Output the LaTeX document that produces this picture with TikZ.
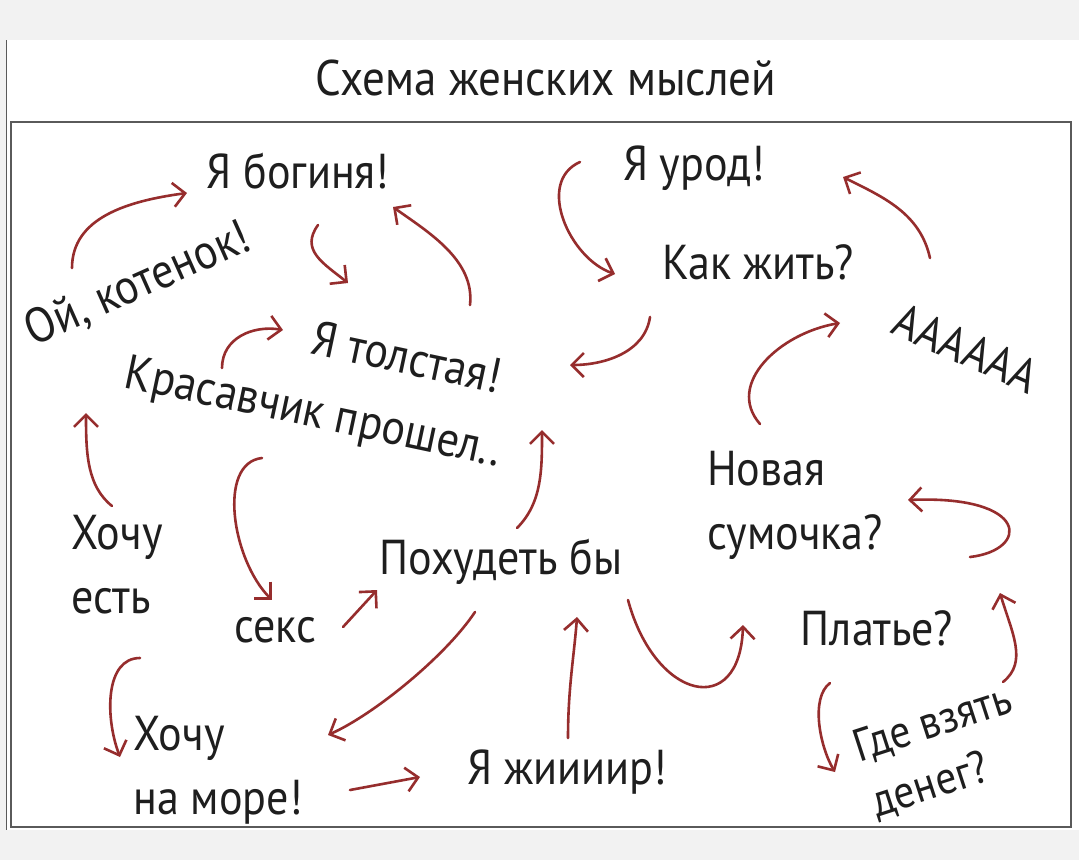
\documentclass[tikz,border=0pt]{standalone}
\usepackage{fontspec}
\setmainfont{PT Sans}[FakeStretch=0.9]
\usetikzlibrary{arrows.meta,calc}
\definecolor{arrred}{RGB}{150,45,45}
\definecolor{ink}{RGB}{30,30,30}
\definecolor{bggray}{RGB}{242,242,242}
\definecolor{framegray}{RGB}{90,90,90}
\begin{document}
\begin{tikzpicture}[x=1pt, y=-1pt,
  word/.style={font=\fontsize{49}{64}\selectfont, text=ink, inner sep=0pt, align=left},
  arr/.style={draw=arrred, line width=2.6pt, line cap=round, -{Straight Barb[length=12pt,width=24pt]}}]
\useasboundingbox (0,0) rectangle (1079,860);
\fill[bggray] (0,0) rectangle (1079,860);
\fill[white] (6,40) rectangle (1079,830);
\draw[framegray, line width=1pt] (6,40) -- (6,830);
\draw[framegray, line width=2.5pt] (11,122) rectangle (1071,827);

\node[word, font=\fontsize{50}{60}\selectfont] (title) at (546,78) {Схема женских мыслей};

% thoughts
\node[word] (bog) at (298,171) {Я богиня!};
\node[word] (urod) at (694,168) {Я урод!};
\node[word] (kak) at (758,262) {Как жить?};
\node[word, rotate=24] (kot) at (138,285) {Ой, котенок!};
\node[word, rotate=-12] (tol) at (407,357) {Я толстая!};
\node[word, rotate=-12] (kras) at (313,415) {Красавчик прошел..};
\node[word, rotate=-24, font=\fontsize{48}{56}\selectfont] (aaa) at (966,348) {АААААА};
\node[word] (sum) at (795,505) {Новая\\сумочка?};
\node[word] (est) at (117,565) {Хочу\\есть};
\node[word] (seks) at (275,630) {секс};
\node[word] (poh) at (501,562) {Похудеть бы};
\node[word] (plat) at (877,628) {Платье?};
\node[word] (more) at (218,770) {Хочу\\на море!};
\node[word] (zhir) at (567,772) {Я жиииир!};
\node[word, rotate=18, font=\fontsize{46}{58}\selectfont] (deng) at (942,752) {Где взять\\денег?};

% arrows
\draw[arr] ($(kot)+(-66,-17)$) .. controls +(0,-50) and +(-60,8) .. ($(bog)+(-111,22)$);
\draw[arr] ($(bog)+(20,54)$) .. controls +(-18,25) and +(-25,-20) .. ($(tol)+(-59,-74)$);
\draw[arr] ($(tol)+(63,-52)$) .. controls +(5,-45) and +(35,25) .. ($(bog)+(95,36)$);
\draw[arr] ($(kras)+(-91,-47)$) .. controls +(0,-30) and +(-30,-5) .. ($(tol)+(-124,-27)$);
\draw[arr] ($(est)+(-5,-59)$) .. controls +(-25,-20) and +(0,40) .. ($(kras)+(-227,-2)$);
\draw[arr] ($(kras)+(-51,43)$) .. controls +(-45,5) and +(-40,-40) .. ($(seks)+(-3,-30)$);
\draw[arr] ($(seks)+(68,-3)$) -- ($(poh)+(-124,28)$);
\draw[arr] ($(poh)+(-26,50)$) .. controls +(-30,45) and +(45,-20) .. ($(more)+(110,-35)$);
\draw[arr] ($(est)+(23,93)$) .. controls +(-35,0) and +(-15,-40) .. ($(more)+(-98,-13)$);
\draw[arr] ($(more)+(132,20)$) -- ($(zhir)+(-147,5)$);
\draw[arr] ($(zhir)+(1,-34)$) .. controls +(0,-50) and +(-3,40) .. ($(poh)+(76,55)$);
\draw[arr] ($(poh)+(127,38)$) .. controls +(27,100) and +(-3,95) .. ($(plat)+(-134,-3)$);
\draw[arr] ($(plat)+(93,-71)$) .. controls +(60,-7) and +(122,-5) .. ($(sum)+(113,-5)$);
\draw[arr] ($(deng)+(61,-70)$) .. controls +(25,-20) and +(12,40) .. ($(plat)+(123,-35)$);
\draw[arr] ($(plat)+(-47,55)$) .. controls +(-20,15) and +(-15,-25) .. ($(deng)+(-107,20)$);
\draw[arr] ($(poh)+(16,-34)$) .. controls +(25,-25) and +(0,40) .. ($(tol)+(135,73)$);
\draw[arr] ($(kak)+(-108,55)$) .. controls +(-5,35) and +(35,0) .. ($(tol)+(163,8)$);
\draw[arr] ($(urod)+(-114,-6)$) .. controls +(-45,20) and +(-45,-15) .. ($(kak)+(-143,12)$);
\draw[arr] ($(aaa)+(-36,-90)$) .. controls +(-10,-45) and +(40,20) .. ($(urod)+(149,9)$);
\draw[arr] ($(sum)+(-35,-81)$) .. controls +(-35,-40) and +(-60,10) .. ($(aaa)+(-126,-25)$);
\end{tikzpicture}
\end{document}
